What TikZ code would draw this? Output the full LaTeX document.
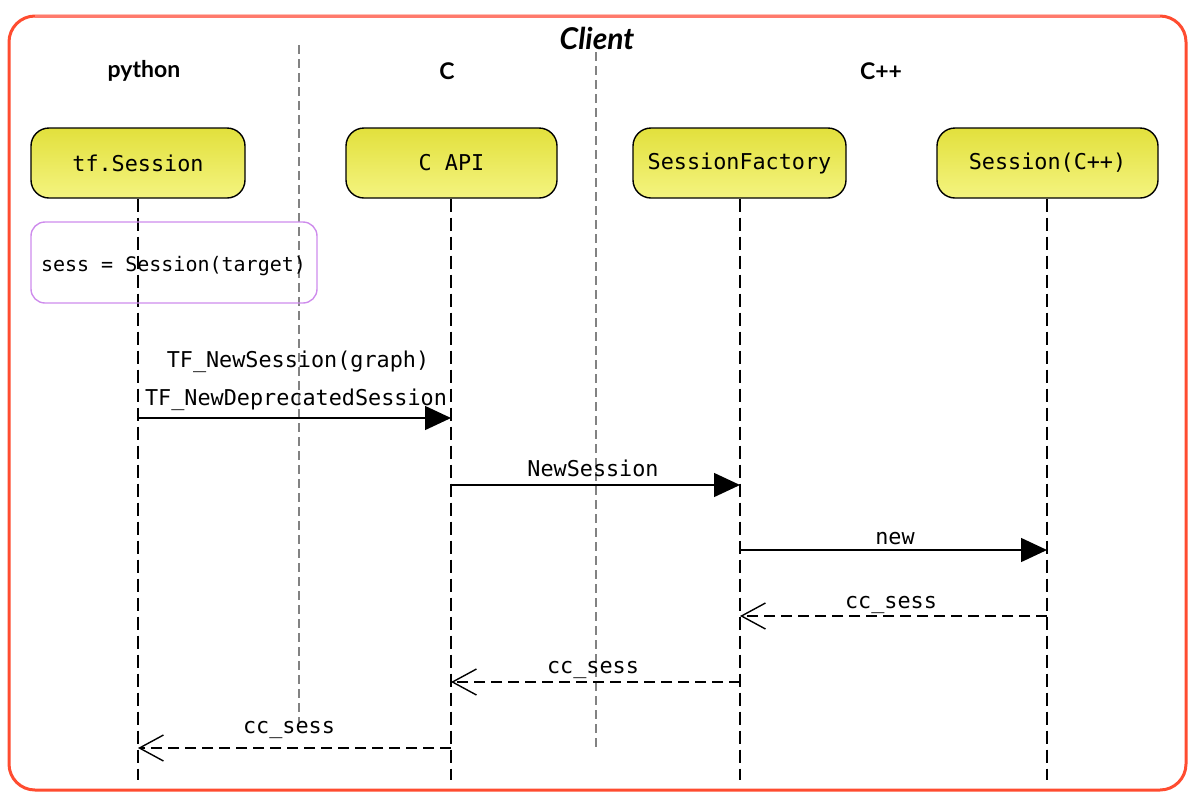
\documentclass[tikz,border=0pt]{standalone}
\usepackage{fontspec}
\setmainfont{Lato}
\newfontfamily\monof{DejaVu Sans Mono}
\usetikzlibrary{arrows.meta}
\definecolor{framered}{RGB}{255,76,48}
\definecolor{frametop}{RGB}{255,122,108}
\definecolor{boxtop}{RGB}{226,224,60}
\definecolor{boxbot}{RGB}{244,244,128}
\definecolor{notepurple}{RGB}{206,140,236}
\definecolor{sepgrey}{RGB}{130,130,130}
\begin{document}
\begin{tikzpicture}[x=1pt,y=-1pt,
  lbox/.style={draw=black, line width=1.4pt, rounded corners=18pt, top color=boxtop, bottom color=boxbot,
    minimum height=70pt, inner sep=0pt, font=\monof\fontsize{21.8}{26}\selectfont},
  note/.style={draw=notepurple, line width=1.4pt, rounded corners=14pt, minimum width=286pt, minimum height=81pt,
    inner sep=0pt},
  lifeline/.style={draw=black, line width=1.4pt, dash pattern=on 13pt off 6pt},
  sepline/.style={draw=sepgrey, line width=1.4pt, dash pattern=on 9pt off 5pt},
  header/.style={font=\bfseries\fontsize{23}{27}\selectfont},
  lab/.style={font=\monof\fontsize{21.8}{26}\selectfont, inner sep=0pt},
  callmsg/.style={draw=black, line width=1.4pt, -{Triangle[length=26pt,width=24pt]}},
  retmsg/.style={draw=black, line width=1.4pt, dash pattern=on 11pt off 6pt, -{Straight Barb[length=24pt,width=26pt,line width=1.4pt]}}
]
\useasboundingbox (0,0) rectangle (1194,804);
% frame
\draw[framered, line width=3pt, rounded corners=26pt] (9,16) rectangle (1186,790);
\coordinate (ftl) at (35,16);
\coordinate (ftr) at (1160,16);
\draw[frametop, line width=3pt] (ftl) -- (ftr);
\node[font=\bfseries\itshape\fontsize{30}{36}\selectfont] (title) at (597,38) {Client};
% headers
\node[header] (hpy) at (144,71) {python};
\node[header] (hc) at (447,71) {C};
\node[header] (hcpp) at (881,71) {C++};
% separators
\coordinate (sepAtop) at (299,45);
\coordinate (sepAbot) at (299,722);
\coordinate (sepBtop) at (596,52);
\coordinate (sepBbot) at (596,750);
\draw[sepline] (sepAtop) -- (sepAbot);
\draw[sepline] (sepBtop) -- (sepBbot);
% lifeline boxes
\node[lbox, minimum width=214pt] (tf) at (138,163) {tf.Session};
\node[lbox, minimum width=211pt] (capi) at (451.5,163) {C API};
\node[lbox, minimum width=213pt] (sf) at (739.5,163) {SessionFactory};
\node[lbox, minimum width=221pt] (scpp) at (1047.5,163) {Session(C++)};
% lifeline bottoms
\coordinate (tfE) at (138,780);
\coordinate (capiE) at (451,780);
\coordinate (sfE) at (740,780);
\coordinate (scppE) at (1047,780);
\draw[lifeline] (tf.south) -- (tfE);
\draw[lifeline] (capi.south -| capiE) -- (capiE);
\draw[lifeline] (sf.south -| sfE) -- (sfE);
\draw[lifeline] (scpp.south -| scppE) -- (scppE);
% note
\node[note] (sessnote) at (174,262.5) {};
\node[font=\monof\fontsize{20}{24}\selectfont, inner sep=0pt] (notetext) at (173.5,266) {sess = Session(target)};
% message points
\coordinate (m1a) at (138,418);  \coordinate (m1b) at (451,418);
\coordinate (m2a) at (451,485);  \coordinate (m2b) at (740,485);
\coordinate (m3a) at (740,550);  \coordinate (m3b) at (1047,550);
\coordinate (m4a) at (1047,616); \coordinate (m4b) at (740,616);
\coordinate (m5a) at (740,682);  \coordinate (m5b) at (451,682);
\coordinate (m6a) at (451,748);  \coordinate (m6b) at (138,748);
% messages
\draw[callmsg] (m1a) -- (m1b);
\draw[callmsg] (m2a) -- (m2b);
\draw[callmsg] (m3a) -- (m3b);
\draw[retmsg] (m4a) -- (m4b);
\draw[retmsg] (m5a) -- (m5b);
\draw[retmsg] (m6a) -- (m6b);
% labels
\node[lab] (l1a) at (298,362) {TF\_NewSession(graph)};
\node[lab] (l1b) at (296,400) {TF\_NewDeprecatedSession};
\node[lab] (l2) at (593,468) {NewSession};
\node[lab] (l3) at (895,539) {new};
\node[lab] (l4) at (891,605) {cc\_sess};
\node[lab] (l5) at (593,670) {cc\_sess};
\node[lab] (l6) at (289,730) {cc\_sess};
\end{tikzpicture}
\end{document}
